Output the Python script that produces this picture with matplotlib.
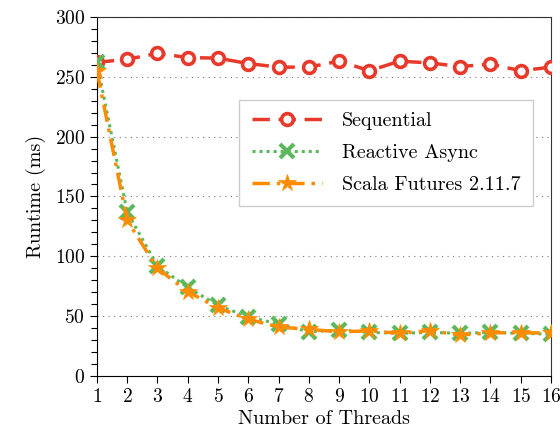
import matplotlib
matplotlib.use("Agg")
import matplotlib.pyplot as plt
from matplotlib.ticker import MultipleLocator

plt.rcParams["font.family"] = "serif"
plt.rcParams["font.serif"] = ["cmr10", "DejaVu Serif"]
plt.rcParams["mathtext.fontset"] = "cm"
plt.rcParams["axes.formatter.use_mathtext"] = True

threads = list(range(1, 17))
sequential = [262, 264.5, 269.5, 266, 265.5, 261, 258, 258, 263, 255, 263, 261.5, 258.5, 260.5, 255, 258]
reactive_async = [262, 137, 92, 74, 59, 49.5, 43.5, 37, 38.5, 36.5, 35.7, 36.5, 35.7, 36.5, 35.7, 35]
scala_futures = [255, 130, 90, 70.5, 57, 47.5, 41, 39, 37, 37.8, 35.7, 38, 34.2, 36.2, 36.2, 36]

fig = plt.figure(figsize=(5.6, 4.43), dpi=100)
ax = fig.add_axes([0.173, 0.151, 0.811, 0.811])

ax.plot(threads, sequential, color="#e8392b", linestyle=(0, (5, 2.5)), linewidth=2.5,
        marker="o", markersize=8.5, markerfacecolor="white", markeredgewidth=2.6,
        label="Sequential", zorder=3)
ax.plot(threads, reactive_async, color="#5cb85c", linestyle=(0, (1, 1.3)), linewidth=2.2,
        marker="x", markersize=10, markeredgewidth=3.0,
        label="Reactive Async", zorder=4)
ax.plot(threads, scala_futures, color="#ff8c00", linestyle=(0, (5, 2, 1, 2)), linewidth=2.5,
        marker="*", markersize=13, markeredgewidth=0.5,
        label="Scala Futures 2.11.7", zorder=5)

ax.set_xlim(1, 16)
ax.set_ylim(0, 300)
ax.set_xticks(threads)
ax.yaxis.set_major_locator(MultipleLocator(50))
ax.yaxis.set_minor_locator(MultipleLocator(10))
ax.tick_params(axis="both", which="major", direction="out", length=5, width=0.8, labelsize=14)
ax.tick_params(axis="y", which="minor", direction="out", length=4, width=0.8)
ax.yaxis.grid(True, which="major", linestyle=(0, (1, 4)), color="#777777", linewidth=0.8)
ax.set_axisbelow(True)

for side in ["top", "right"]:
    ax.spines[side].set_color("#333333")

ax.set_xlabel("Number of Threads", fontsize=14.5, labelpad=3)
ax.set_ylabel("Runtime (ms)", fontsize=14.5, labelpad=6)

leg = ax.legend(loc="upper right", bbox_to_anchor=(0.96, 0.769), borderaxespad=0,
                fontsize=14.5, fancybox=False, edgecolor="#cccccc", framealpha=1,
                handlelength=3.5, borderpad=0.6, labelspacing=0.7, handletextpad=1.0)
leg.get_frame().set_linewidth(1.0)

fig.savefig("out.png", dpi=100)
